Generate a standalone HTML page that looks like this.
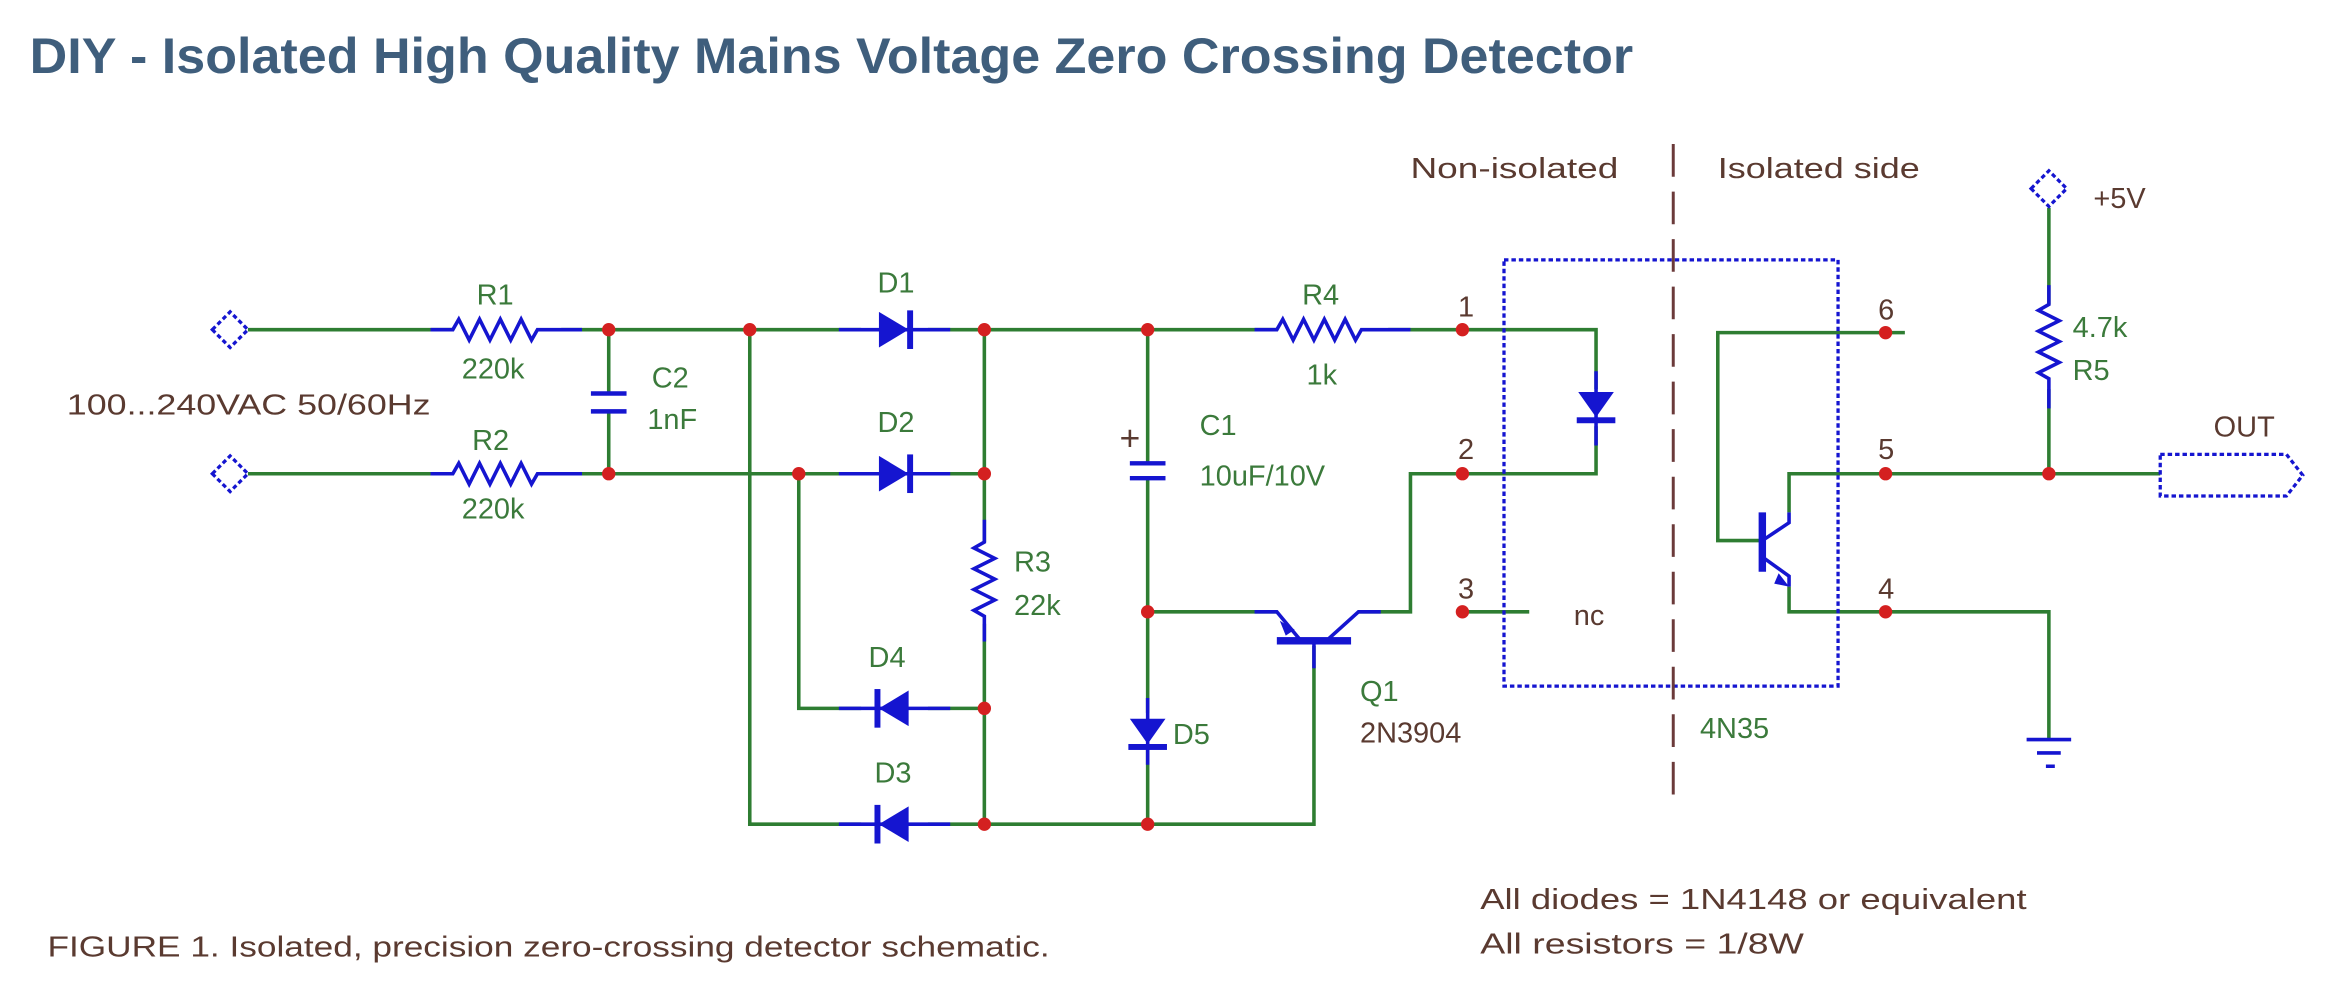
<!DOCTYPE html>
<html><head><meta charset="utf-8"><style>
html,body{margin:0;padding:0;background:#fff;}
svg{display:block;}
text{font-family:"Liberation Sans",sans-serif;}
</style></head><body>
<svg width="2328" height="992" viewBox="0 0 1568 668" preserveAspectRatio="none" xmlns="http://www.w3.org/2000/svg">
<rect width="1568" height="668" fill="#fff"/>
<text x="20" y="49" font-size="34" font-weight="bold" fill="#3f5e7c" textLength="1080" lengthAdjust="spacingAndGlyphs">DIY - Isolated High Quality Mains Voltage Zero Crossing Detector</text>

<g stroke="#2e7d32" stroke-width="2.4" fill="none">
<path d="M167 222H305 M378 222H580 M625 222H860 M935 222H1075V262"/>
<path d="M167 319H305 M378 319H580 M625 319H663"/>
<path d="M410 222V265 M410 277V319"/>
<path d="M505 222V555H580 M625 555H885V435"/>
<path d="M538 319V477H580 M625 477H663"/>
<path d="M663 222V365 M663 420V555"/>
<path d="M773 222V312 M773 322V480 M773 505V555"/>
<path d="M773 412H860"/>
<path d="M915 412H950V319H1075V287"/>
<path d="M985 412H1030"/>
<path d="M1283 224H1157V364H1185"/>
<path d="M1205 345V319H1455 M1205 395V412H1380V498"/>
<path d="M1380 140V205 M1380 262V319"/>
</g>

<g stroke="#1515d0" stroke-width="2.4" fill="none">
<path d="M290 222H305l4-7 7 14 7-14 7 14 7-14 7 14 7-14 7 14 4-7H392"/>
<path d="M290 319H305l4-7 7 14 7-14 7 14 7-14 7 14 7-14 7 14 4-7H392"/>
<path d="M845 222H860l4-7 7 14 7-14 7 14 7-14 7 14 7-14 7 14 4-7H950"/>
<path d="M663 350V365l-7 4 14 7-14 7 14 7-14 7 14 7-14 7 7 4V432"/>
<path d="M1380 192V205l-7 4 14 7-14 7 14 7-14 7 14 7-14 7 7 4V275"/>
<path d="M565 222H640 M565 319H640 M565 477H640 M565 555H640"/>
<path d="M773 470V515 M1075 250V300"/>
<path d="M398 265H422 M398 277H422" stroke-width="3"/>
<path d="M761 312H785 M761 322H785" stroke-width="3"/>
<path d="M845 412H860L875 430 M895 430L915 412H930" />
<path d="M885 432V450"/>
<path d="M1187 345V385" stroke-width="5"/>
<path d="M1187 364L1205 352V345 M1187 375L1205 388V395"/>
<path d="M1365 498H1395 M1372 507H1388 M1378 516H1384"/>
</g>
<g fill="#1515d0">
<path d="M592 210L612 222L592 234Z"/><rect x="611" y="209" width="4" height="26"/>
<path d="M592 307L612 319L592 331Z"/><rect x="611" y="306" width="4" height="26"/>
<path d="M612 465L592 477L612 489Z"/><rect x="589" y="464" width="4" height="26"/>
<path d="M612 543L592 555L612 567Z"/><rect x="589" y="542" width="4" height="26"/>
<path d="M761 484L785 484L773 501Z"/><rect x="760" y="501" width="26" height="4"/>
<path d="M1063 264L1087 264L1075 281Z"/><rect x="1062" y="281" width="26" height="4"/>
<rect x="860" y="429" width="50" height="5"/>
<path d="M862 418L872 424L866 428Z"/>
<path d="M1198 386L1205 395L1195 393Z"/>
</g>

<g stroke="#1515d0" stroke-width="2.2" fill="none" stroke-dasharray="3 2">
<path d="M143 222L155 210L167 222L155 234Z"/>
<path d="M143 319L155 307L167 319L155 331Z"/>
<path d="M1368 127L1380 115L1392 127L1380 139Z"/>
<path d="M1455 306H1540L1551 320L1540 334H1455Z"/>
<rect x="1013" y="175" width="225" height="287"/>
</g>
<path d="M1127 97V545" stroke="#6b3a3a" stroke-width="2" stroke-dasharray="22 10"/>

<g fill="#d42020">
<circle cx="410" cy="222" r="4.5"/><circle cx="505" cy="222" r="4.5"/><circle cx="663" cy="222" r="4.5"/><circle cx="773" cy="222" r="4.5"/>
<circle cx="410" cy="319" r="4.5"/><circle cx="538" cy="319" r="4.5"/><circle cx="663" cy="319" r="4.5"/>
<circle cx="773" cy="412" r="4.5"/><circle cx="663" cy="477" r="4.5"/><circle cx="663" cy="555" r="4.5"/><circle cx="773" cy="555" r="4.5"/>
<circle cx="985" cy="222" r="4.5"/><circle cx="985" cy="319" r="4.5"/><circle cx="985" cy="412" r="4.5"/>
<circle cx="1270" cy="224" r="4.5"/><circle cx="1270" cy="319" r="4.5"/><circle cx="1270" cy="412" r="4.5"/><circle cx="1380" cy="319" r="4.5"/>
</g>

<g font-size="19.5" fill="#3b7a3b">
<text x="321" y="205">R1</text><text x="311" y="255">220k</text>
<text x="318" y="303">R2</text><text x="311" y="349">220k</text>
<text x="439" y="261">C2</text><text x="436" y="289">1nF</text>
<text x="591" y="197">D1</text><text x="591" y="291">D2</text>
<text x="585" y="449">D4</text><text x="589" y="527">D3</text>
<text x="683" y="385">R3</text><text x="683" y="414">22k</text>
<text x="808" y="293">C1</text><text x="808" y="327">10uF/10V</text>
<text x="790" y="501">D5</text>
<text x="877" y="205">R4</text><text x="880" y="259">1k</text>
<text x="916" y="472">Q1</text>
<text x="1145" y="497">4N35</text>
<text x="1396" y="227">4.7k</text><text x="1396" y="256">R5</text>
</g>
<g font-size="19.5" fill="#5a3a30">
<text x="45" y="279" textLength="245" lengthAdjust="spacingAndGlyphs">100...240VAC 50/60Hz</text>
<text x="754" y="303" font-size="24">+</text>
<text x="916" y="500">2N3904</text>
<text x="982" y="213">1</text><text x="982" y="309">2</text><text x="982" y="403">3</text>
<text x="1060" y="421">nc</text>
<text x="1265" y="215">6</text><text x="1265" y="309">5</text><text x="1265" y="403">4</text>
<text x="950" y="120" textLength="140" lengthAdjust="spacingAndGlyphs">Non-isolated</text>
<text x="1157" y="120" textLength="136" lengthAdjust="spacingAndGlyphs">Isolated side</text>
<text x="1410" y="140">+5V</text>
<text x="1491" y="294">OUT</text>
<text x="997" y="612" textLength="368" lengthAdjust="spacingAndGlyphs">All diodes = 1N4148 or equivalent</text>
<text x="997" y="642" textLength="218" lengthAdjust="spacingAndGlyphs">All resistors = 1/8W</text>
<text x="32" y="644" textLength="675" lengthAdjust="spacingAndGlyphs">FIGURE 1. Isolated, precision zero-crossing detector schematic.</text>
</g>
</svg>
</body></html>
